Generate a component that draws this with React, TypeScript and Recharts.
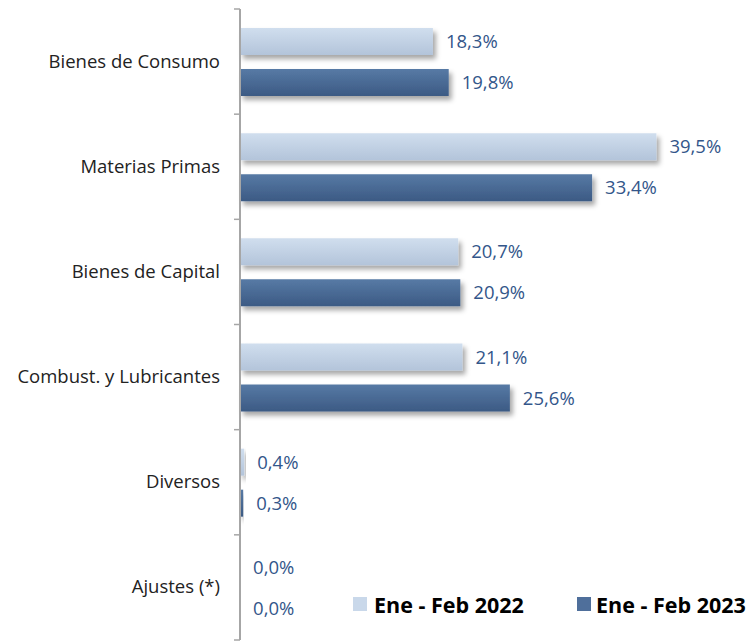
import React from 'react';
import { BarChart, Bar, XAxis, YAxis, Legend, LabelList } from 'recharts';

const categories = [
  'Bienes de Consumo',
  'Materias Primas',
  'Bienes de Capital',
  'Combust. y Lubricantes',
  'Diversos',
  'Ajustes (*)',
];
const feb2022 = [18.3, 39.5, 20.7, 21.1, 0.4, 0.0];
const feb2023 = [19.8, 33.4, 20.9, 25.6, 0.3, 0.0];
const seriesNames = ['Ene - Feb 2022', 'Ene - Feb 2023'];

const data = categories.map((name, i) => ({
  name,
  a: feb2022[i],
  b: feb2023[i],
}));

const W = 749;
const H = 642;
const MARGIN = { top: 9, right: 3, bottom: 2, left: 0 };
const BAND = (H - MARGIN.top - MARGIN.bottom) / categories.length;
const FONT = '"Open Sans", sans-serif';
const LABEL_COLOR = '#33568a';

const fmt = (v: any) => `${Number(v).toFixed(1).replace('.', ',')}%`;

function CategoryTick(props: any) {
  const { x, y, payload, index } = props;
  const last = index === categories.length - 1;
  return (
    <g>
      <line x1={x - 6} x2={x} y1={y - BAND / 2} y2={y - BAND / 2} stroke="#a6a6a6" strokeWidth={1.5} />
      {last && (
        <line x1={x - 6} x2={x} y1={y + BAND / 2} y2={y + BAND / 2} stroke="#a6a6a6" strokeWidth={1.5} />
      )}
      <text x={x - 20} y={y} dy={6} textAnchor="end" fill="#222" fontSize={18.5} fontFamily={FONT}>
        {payload.value}
      </text>
    </g>
  );
}

// zero-height box so the legend does not shrink the plot area
function LegendContent() {
  const items = [
    { name: seriesNames[0], color: '#c9d8ea', left: 0, textLeft: 21 },
    { name: seriesNames[1], color: '#4f6f9b', left: 224, textLeft: 243 },
  ];
  return (
    <div style={{ position: 'relative', height: 0, fontFamily: FONT }}>
      {items.map((it) => (
        <React.Fragment key={it.name}>
          <div style={{ position: 'absolute', left: it.left, top: 5, width: 14, height: 14, background: it.color }} />
          <div style={{ position: 'absolute', left: it.textLeft, top: 0, fontSize: 21.5, fontWeight: 700, color: '#000', whiteSpace: 'nowrap', lineHeight: '25px' }}>
            {it.name}
          </div>
        </React.Fragment>
      ))}
    </div>
  );
}

export default function App() {
  return (
    <>
      <style>{'body{margin:0}'}</style>
      <BarChart width={W} height={H} data={data} layout="vertical" margin={MARGIN} barSize={27} barGap={14}>
        <defs>
          <linearGradient id="gLight" x1="0" y1="0" x2="0" y2="1">
            <stop offset="0%" stopColor="#d0deee" />
            <stop offset="100%" stopColor="#b3c4da" />
          </linearGradient>
          <linearGradient id="gDark" x1="0" y1="0" x2="0" y2="1">
            <stop offset="0%" stopColor="#577aa5" />
            <stop offset="100%" stopColor="#3c5a84" />
          </linearGradient>
          <filter id="shadow" x="-10%" y="-30%" width="130%" height="190%">
            <feDropShadow dx="3" dy="4" stdDeviation="2.5" floodColor="#000" floodOpacity="0.35" />
          </filter>
        </defs>
        <XAxis type="number" domain={[0, 48]} hide />
        <YAxis
          type="category"
          dataKey="name"
          width={240}
          axisLine={{ stroke: '#a6a6a6', strokeWidth: 2 }}
          tickLine={false}
          tickSize={0}
          tickMargin={0}
          tick={<CategoryTick />}
          interval={0}
        />
        <Legend
          verticalAlign="bottom"
          content={<LegendContent />}
          wrapperStyle={{ position: 'absolute', left: 353, top: 592, width: 390, bottom: 'auto' }}
        />
        <Bar dataKey="a" name={seriesNames[0]} fill="url(#gLight)" filter="url(#shadow)" minPointSize={0.1} isAnimationActive={false}>
          <LabelList dataKey="a" position="right" offset={13} formatter={fmt} fill={LABEL_COLOR} fontSize={18.5} fontFamily={FONT} />
        </Bar>
        <Bar dataKey="b" name={seriesNames[1]} fill="url(#gDark)" filter="url(#shadow)" minPointSize={0.1} isAnimationActive={false}>
          <LabelList dataKey="b" position="right" offset={13} formatter={fmt} fill={LABEL_COLOR} fontSize={18.5} fontFamily={FONT} />
        </Bar>
      </BarChart>
    </>
  );
}
